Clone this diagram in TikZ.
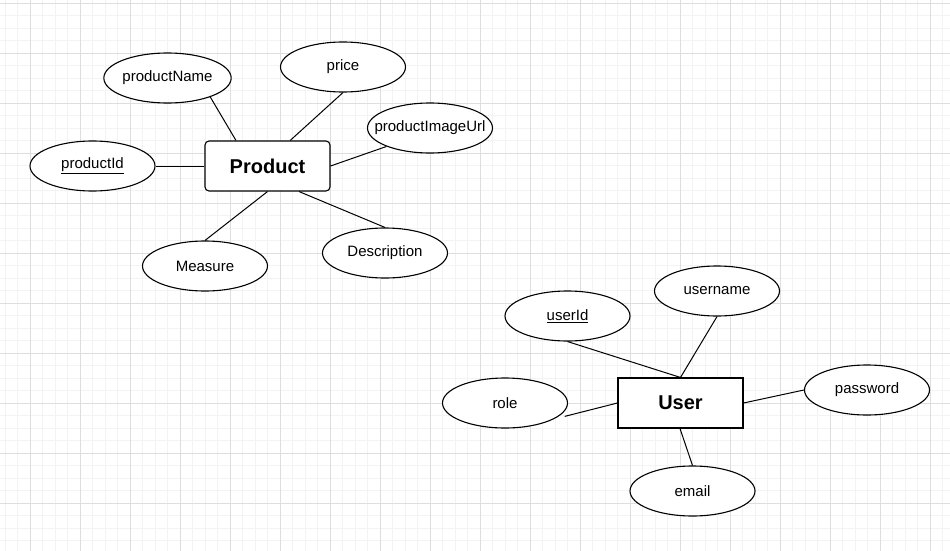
\documentclass[tikz,border=0pt]{standalone}
\usepackage{fontspec}
\setmainfont{Liberation Sans}
\usetikzlibrary{shapes.geometric,calc}
\definecolor{gridmajor}{RGB}{222,222,222}
\definecolor{gridminor}{RGB}{243,243,243}
\begin{document}
\begin{tikzpicture}[x=1pt,y=-1pt,
  attr/.style={draw,ellipse,line width=1.1pt,fill=white,minimum width=125pt,minimum height=50pt,inner sep=0pt,font=\fontsize{15}{18}\selectfont},
  entity/.style={draw,rectangle,line width=1.1pt,fill=white,minimum width=125pt,minimum height=50pt,inner sep=0pt,font=\fontsize{20}{24}\selectfont\bfseries},
  conn/.style={line width=1pt}]
\useasboundingbox (0,0) rectangle (950,551);
\fill[white] (0,0) rectangle (950,551);
% minor grid
\foreach \i in {0,...,76} {
  \draw[gridminor,line width=0.7pt] ({5+12.5*\i},0) -- ({5+12.5*\i},551);
}
\foreach \j in {0,...,44} {
  \draw[gridminor,line width=0.7pt] (0,{3+12.5*\j}) -- (950,{3+12.5*\j});
}
% major grid
\foreach \i in {0,...,18} {
  \draw[gridmajor,line width=0.7pt] ({30+50*\i},0) -- ({30+50*\i},551);
}
\foreach \j in {0,...,11} {
  \draw[gridmajor,line width=0.7pt] (0,{3+50*\j}) -- (950,{3+50*\j});
}

% Product entity
\node[entity,rounded corners=4pt] (prod) at (267.5,166) {Product};
\node[attr] (pname) at (167.5,78) {productName};
\node[attr] (price) at (343,67) {price};
\node[attr] (pimg) at (430,128) {\makebox[0pt]{productImageUrl}};
\node[attr] (pid) at (92.5,166) {\underline{productId}};
\node[attr] (desc) at (385,253) {Description};
\node[attr] (meas) at (205,266) {Measure};

\draw[conn] (pname.-24) -- ($(prod.north west)!0.25!(prod.north east)$);
\draw[conn] (price.south) -- ($(prod.north west)!0.68!(prod.north east)$);
\draw[conn] (pimg.-157) -- (prod.east);
\draw[conn] (pid.east) -- (prod.west);
\draw[conn] (desc.north) -- ($(prod.south west)!0.75!(prod.south east)$);
\draw[conn] (meas.north) -- (prod.south);

% User entity
\node[entity] (user) at (680.5,403) {User};
\node[attr] (uid) at (567.5,316) {\underline{userId}};
\node[attr] (uname) at (717,291) {username};
\node[attr] (role) at (505,403) {role};
\node[attr] (pw) at (867,390) {password};
\node[attr] (email) at (692.5,491) {email};

\draw[conn] (uid.south) -- (user.north);
\draw[conn] (uname.south) -- (user.north);
\draw[conn] ($(role.-14)+(6,0)$) -- (user.west);
\draw[conn] (pw.west) -- (user.east);
\draw[conn] (email.north) -- ($(user.south west)!0.5!(user.south east)+(-0.5,0)$);
\end{tikzpicture}
\end{document}
